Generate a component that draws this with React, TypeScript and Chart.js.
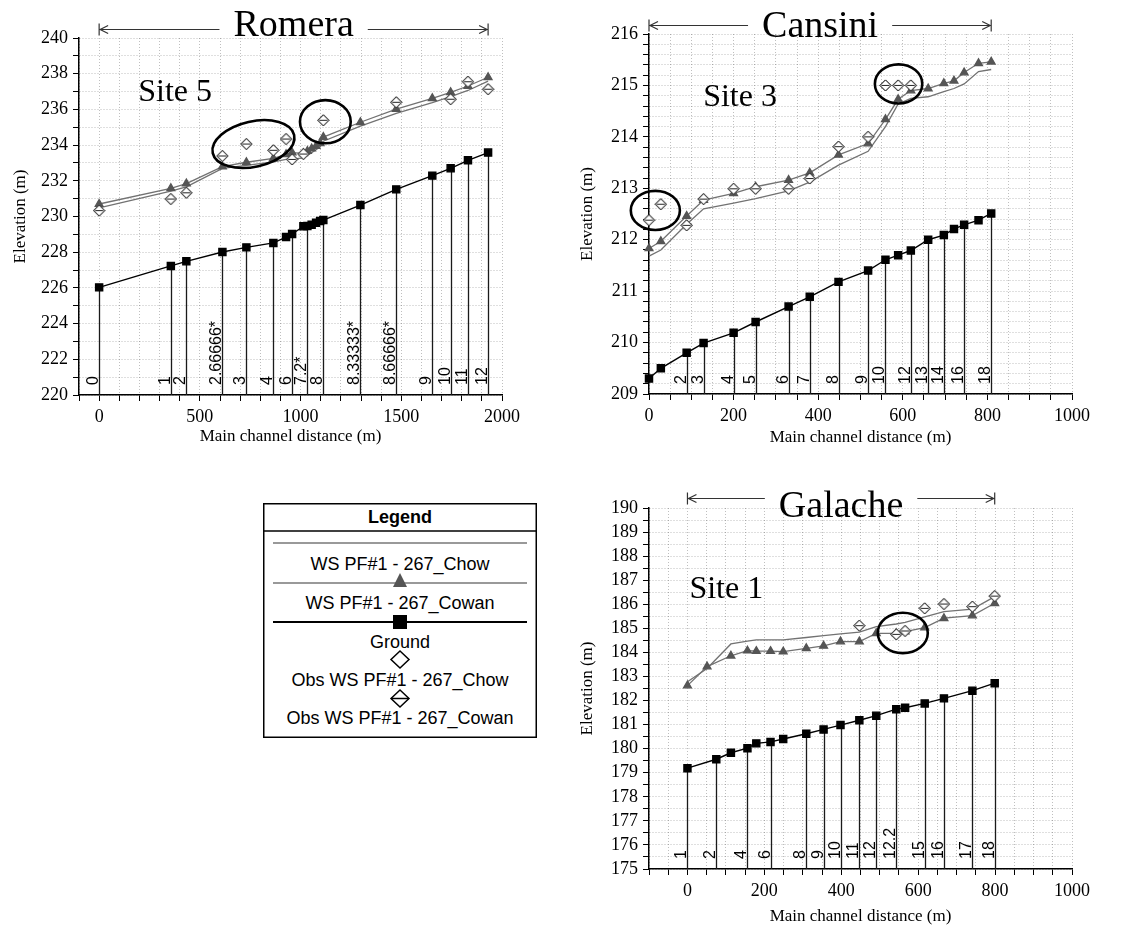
import React, { useEffect, useRef } from 'react';
import { Chart, registerables } from 'chart.js';
Chart.register(...registerables);

// ---------------- Romera (Site 5) ----------------
const romeraDist = [0, 356, 433, 612, 731, 865, 928, 958, 1014, 1034, 1055, 1077, 1097, 1113, 1297, 1475, 1654, 1745, 1831, 1931];
const romeraStations = ['0', '1', '2', '2.66666*', '3', '4', '', '6', '', '7.2*', '', '', '', '8', '8.33333*', '8.66666*', '9', '10', '11', '12'];
const romeraGround = [226.03, 227.23, 227.49, 228.01, 228.27, 228.52, 228.85, 229.02, 229.45, 229.47, 229.54, 229.65, 229.75, 229.8, 230.64, 231.52, 232.29, 232.7, 233.15, 233.58];
const romeraCowan = [230.7, 231.58, 231.84, 232.79, 233.04, 233.26, 233.48, 233.58, 233.54, 233.66, 233.8, 233.95, 234.1, 234.45, 235.28, 236.02, 236.62, 236.96, 237.31, 237.8];
const romeraChow = [230.48, 231.42, 231.66, 232.7, 232.86, 233.06, 233.2, 233.22, 233.28, 233.42, 233.58, 233.74, 233.9, 234.22, 235.06, 235.78, 236.38, 236.72, 237.06, 237.58];
const romeraObsDist = [0, 356, 433, 612, 731, 865, 928, 958, 1014, 1113, 1475, 1745, 1831, 1931];
const romeraObs = [230.33, 230.98, 231.33, 233.39, 234.06, 233.71, 234.34, 233.2, 233.5, 235.39, 236.4, 236.57, 237.55, 237.13];
const romeraXLabels = [0, 500, 1000, 1500, 2000];
const romeraYLabels = [220, 222, 224, 226, 228, 230, 232, 234, 236, 238, 240];

// ---------------- Cansini (Site 3) ----------------
const cansiniDist = [0, 28, 89, 129, 200, 252, 330, 380, 448, 518, 559, 589, 619, 660, 697, 721, 745, 779, 809];
const cansiniStations = ['', '', '2', '3', '4', '5', '6', '7', '8', '9', '10', '', '12', '13', '14', '', '16', '', '18'];
const cansiniGround = [209.3, 209.5, 209.8, 209.99, 210.19, 210.4, 210.7, 210.89, 211.18, 211.4, 211.61, 211.7, 211.79, 212.0, 212.09, 212.21, 212.29, 212.38, 212.51];
const cansiniCowan = [211.83, 211.97, 212.46, 212.77, 212.9, 213.03, 213.16, 213.3, 213.65, 213.87, 214.34, 214.73, 214.9, 214.94, 215.04, 215.09, 215.25, 215.43, 215.46];
const cansiniChow = [211.68, 211.8, 212.3, 212.6, 212.71, 212.8, 212.95, 213.12, 213.45, 213.72, 214.2, 214.64, 214.75, 214.78, 214.88, 214.94, 215.03, 215.27, 215.31];
const cansiniObsDist = [0, 28, 89, 129, 200, 252, 330, 380, 448, 518, 559, 589, 619];
const cansiniObs = [212.38, 212.69, 212.28, 212.79, 212.99, 212.99, 212.99, 213.19, 213.81, 214.0, 215.0, 215.0, 215.0];
const cansiniXLabels = [0, 200, 400, 600, 800, 1000];
const cansiniYLabels = [209, 210, 211, 212, 213, 214, 215, 216];

// ---------------- Galache (Site 1) ----------------
const galacheDist = [0, 75, 113, 156, 179, 216, 249, 309, 354, 398, 447, 491, 543, 566, 617, 667, 741, 799];
const galacheStations = ['1', '2', '', '4', '', '6', '', '8', '9', '10', '11', '12', '12.2', '', '15', '16', '17', '18'];
const galacheGround = [179.19, 179.56, 179.83, 180.02, 180.22, 180.28, 180.4, 180.62, 180.8, 180.98, 181.18, 181.37, 181.64, 181.7, 181.88, 182.09, 182.41, 182.72];
const galacheWsDist = [0, 51, 113, 156, 179, 216, 249, 309, 354, 398, 447, 491, 543, 566, 617, 667, 741, 799];
const galacheCowan = [182.62, 183.41, 183.86, 184.07, 184.05, 184.05, 184.03, 184.17, 184.27, 184.45, 184.45, 184.79, 184.79, 184.86, 185.03, 185.42, 185.53, 186.04];
const galacheChow = [182.78, 183.33, 184.35, 184.47, 184.52, 184.52, 184.52, 184.62, 184.7, 184.77, 184.84, 185.07, 185.18, 185.25, 185.48, 185.69, 185.8, 186.32];
const galacheObsDist = [447, 543, 566, 617, 667, 741, 799];
const galacheObs = [185.11, 184.75, 184.89, 185.83, 186.01, 185.9, 186.34];
const galacheXLabels = [0, 200, 400, 600, 800, 1000];
const galacheYLabels = [175, 176, 177, 178, 179, 180, 181, 182, 183, 184, 185, 186, 187, 188, 189, 190];

function range(min: number, max: number, step: number) {
  const n = Math.round((max - min) / step);
  return Array.from({ length: n + 1 }, (_, i) => Math.round((min + i * step) * 1000) / 1000);
}

const SERIF = '"Liberation Serif", "Times New Roman", serif';
const SANS = '"Liberation Sans", Arial, sans-serif';

let obsImg: HTMLCanvasElement | null = null;
function cowanObsPoint() {
  if (obsImg) return obsImg;
  const c = document.createElement('canvas');
  c.width = 13; c.height = 13;
  const g = c.getContext('2d')!;
  g.beginPath();
  g.moveTo(6.5, 1); g.lineTo(12, 6.5); g.lineTo(6.5, 12); g.lineTo(1, 6.5); g.closePath();
  g.fillStyle = '#fff'; g.fill();
  g.strokeStyle = '#222'; g.lineWidth = 1; g.stroke();
  g.beginPath(); g.moveTo(2.5, 6.5); g.lineTo(10.5, 6.5); g.stroke();
  obsImg = c;
  return c;
}

type Ell = { x: number; y: number; rx: number; ry: number; rot: number };
type Cfg = {
  title: string; site: string; siteX: number; siteY: number;
  arrowTo: number; arrowDy: number; titleDy: number;
  dist: number[]; stations: string[]; ground: number[];
  wsDist: number[]; cowan: number[]; chow: number[];
  obsDist: number[]; obs: number[];
  xMin: number; xMax: number; xStep: number; xLabels: number[];
  yMin: number; yMax: number; yStep: number; yLabels: number[];
  ellipses: Ell[];
  padTop: number; padRight: number; xAxisH: number; xTitlePad: number; yTitlePad: number;
};

function makeAnno(a: Cfg) {
  return {
    id: 'anno',
    beforeDatasetsDraw(chart: any) {
      const { ctx, chartArea } = chart;
      const xs = chart.scales.x, ys = chart.scales.y;
      ctx.save();
      a.dist.forEach((sx, i) => {
        const lab = a.stations[i];
        if (!lab) return;
        const px = Math.round(xs.getPixelForValue(sx)) + 0.5;
        const py = ys.getPixelForValue(a.ground[i]);
        ctx.strokeStyle = '#1a1a1a'; ctx.lineWidth = 1.3;
        ctx.beginPath(); ctx.moveTo(px, py); ctx.lineTo(px, chartArea.bottom); ctx.stroke();
        ctx.save();
        ctx.translate(px - 2, chartArea.bottom - 10);
        ctx.rotate(-Math.PI / 2);
        ctx.font = '16px ' + SANS;
        ctx.fillStyle = '#000'; ctx.textAlign = 'left'; ctx.textBaseline = 'alphabetic';
        ctx.fillText(lab, 0, 0);
        ctx.restore();
      });
      ctx.restore();
    },
    afterDraw(chart: any) {
      const { ctx, chartArea } = chart;
      const xs = chart.scales.x, ys = chart.scales.y;
      ctx.save();
      // title with span arrow
      const x0 = xs.getPixelForValue(0), x1 = xs.getPixelForValue(a.arrowTo);
      const ay = Math.round(chartArea.top + a.arrowDy) + 0.5;
      ctx.font = '38px ' + SERIF;
      const tw = ctx.measureText(a.title).width;
      const cx = (x0 + x1) / 2;
      const gl = cx - tw / 2 - 14, gr = cx + tw / 2 + 14;
      ctx.strokeStyle = '#333'; ctx.lineWidth = 1.2;
      ctx.beginPath();
      ctx.moveTo(x0, ay); ctx.lineTo(gl, ay);
      ctx.moveTo(gr, ay); ctx.lineTo(x1, ay);
      ctx.moveTo(x0, ay - 6); ctx.lineTo(x0, ay + 6);
      ctx.moveTo(x1, ay - 6); ctx.lineTo(x1, ay + 6);
      ctx.moveTo(x0 + 9, ay - 4); ctx.lineTo(x0 + 1, ay); ctx.lineTo(x0 + 9, ay + 4);
      ctx.moveTo(x1 - 9, ay - 4); ctx.lineTo(x1 - 1, ay); ctx.lineTo(x1 - 9, ay + 4);
      ctx.stroke();
      ctx.fillStyle = '#000'; ctx.textAlign = 'center'; ctx.textBaseline = 'alphabetic';
      ctx.fillText(a.title, cx, chartArea.top + a.titleDy);
      // site label
      ctx.font = '32px ' + SERIF; ctx.textAlign = 'left';
      ctx.fillText(a.site, xs.getPixelForValue(a.siteX), ys.getPixelForValue(a.siteY));
      // ellipses
      ctx.strokeStyle = '#000'; ctx.lineWidth = 2.6;
      a.ellipses.forEach((e) => {
        const ex = xs.getPixelForValue(e.x), ey = ys.getPixelForValue(e.y);
        const rx = Math.abs(xs.getPixelForValue(e.x + e.rx) - ex);
        const ry = Math.abs(ys.getPixelForValue(e.y + e.ry) - ey);
        ctx.beginPath(); ctx.ellipse(ex, ey, rx, ry, e.rot, 0, Math.PI * 2); ctx.stroke();
      });
      ctx.restore();
    },
  };
}

function buildConfig(p: Cfg): any {
  const pts = (xs: number[], ys: number[]) => xs.map((x, i) => ({ x, y: ys[i] }));
  const has = (arr: number[], v: number) => arr.some((l) => Math.abs(l - v) < 1e-6);
  const xTicks = range(p.xMin, p.xMax, p.xStep);
  const yTicks = range(p.yMin, p.yMax, p.yStep);
  const gridCommon = { color: 'rgba(0,0,0,0.25)', lineWidth: 1, drawTicks: true, tickLength: 6, tickColor: '#000', tickWidth: 1 };
  const borderCommon = { display: true, color: '#000', width: 1.5, dash: [1, 2] };
  return {
    type: 'line',
    data: {
      datasets: [
        { label: 'Obs WS PF#1 - 267_Cowan', data: pts(p.obsDist, p.obs), showLine: false, pointStyle: cowanObsPoint(), pointRadius: 6, order: 0, clip: false },
        { label: 'Obs WS PF#1 - 267_Chow', data: pts(p.obsDist, p.obs), showLine: false, pointStyle: 'rectRot', pointRadius: 5.5, pointBackgroundColor: '#fff', pointBorderColor: '#222', pointBorderWidth: 1, order: 1, clip: false },
        { label: 'WS PF#1 - 267_Cowan', data: pts(p.wsDist, p.cowan), borderColor: '#727272', borderWidth: 1.3, pointStyle: 'triangle', pointRadius: 4.5, pointBackgroundColor: '#555', pointBorderColor: '#555', order: 2, clip: false },
        { label: 'WS PF#1 - 267_Chow', data: pts(p.wsDist, p.chow), borderColor: '#727272', borderWidth: 1.3, pointRadius: 0, order: 3, clip: false },
        { label: 'Ground', data: pts(p.dist, p.ground), borderColor: '#000', borderWidth: 1.4, pointStyle: 'rect', pointRadius: 5, pointBackgroundColor: '#000', pointBorderColor: '#000', order: 4, clip: false },
      ],
    },
    options: {
      responsive: false,
      animation: false,
      devicePixelRatio: 1,
      events: [],
      layout: { padding: { top: p.padTop, right: p.padRight, left: 0, bottom: 0 } },
      plugins: { legend: { display: false }, tooltip: { enabled: false }, title: { display: false } },
      scales: {
        x: {
          type: 'linear', position: 'bottom', min: p.xMin, max: p.xMax,
          afterBuildTicks: (s: any) => { s.ticks = xTicks.map((v) => ({ value: v })); },
          afterFit: (s: any) => { s.height = p.xAxisH; },
          ticks: { autoSkip: false, maxRotation: 0, minRotation: 0, padding: 5, color: '#000', font: { family: SERIF, size: 18 }, callback: (v: number) => (has(p.xLabels, v) ? String(Math.round(v)) : '') },
          grid: gridCommon,
          border: borderCommon,
          title: { display: true, text: 'Main channel distance (m)', color: '#000', font: { family: SERIF, size: 17 }, padding: { top: 0, bottom: p.xTitlePad } },
        },
        y: {
          type: 'linear', position: 'left', min: p.yMin, max: p.yMax,
          afterBuildTicks: (s: any) => { s.ticks = yTicks.map((v) => ({ value: v })); },
          afterFit: (s: any) => { s.width = 79; },
          ticks: { autoSkip: false, padding: 5, color: '#000', font: { family: SERIF, size: 18 }, callback: (v: number) => (has(p.yLabels, v) ? String(Math.round(v)) : '') },
          grid: gridCommon,
          border: borderCommon,
          title: { display: true, text: 'Elevation (m)', color: '#000', font: { family: SERIF, size: 17 }, padding: { top: p.yTitlePad, bottom: 0 } },
        },
      },
    },
    plugins: [makeAnno(p)],
  };
}

const romeraCfg: Cfg = {
  title: 'Romera', site: 'Site 5', siteX: 194, siteY: 236.47, arrowTo: 1931, arrowDy: -9, titleDy: -2,
  dist: romeraDist, stations: romeraStations, ground: romeraGround,
  wsDist: romeraDist, cowan: romeraCowan, chow: romeraChow,
  obsDist: romeraObsDist, obs: romeraObs,
  xMin: -100, xMax: 2000, xStep: 100, xLabels: romeraXLabels,
  yMin: 220, yMax: 240, yStep: 1, yLabels: romeraYLabels,
  ellipses: [
    { x: 766, y: 234.06, rx: 207, ry: 1.27, rot: -0.22 },
    { x: 1123, y: 235.31, rx: 126, ry: 1.21, rot: 0 },
  ],
  padTop: 38, padRight: 58, xAxisH: 55, xTitlePad: 3, yTitlePad: 10,
};

const cansiniCfg: Cfg = {
  title: 'Cansini', site: 'Site 3', siteX: 128, siteY: 214.6, arrowTo: 809, arrowDy: -9, titleDy: 3,
  dist: cansiniDist, stations: cansiniStations, ground: cansiniGround,
  wsDist: cansiniDist, cowan: cansiniCowan, chow: cansiniChow,
  obsDist: cansiniObsDist, obs: cansiniObs,
  xMin: 0, xMax: 1000, xStep: 50, xLabels: cansiniXLabels,
  yMin: 209, yMax: 216, yStep: 0.2, yLabels: cansiniYLabels,
  ellipses: [
    { x: 15, y: 212.57, rx: 58, ry: 0.38, rot: 0 },
    { x: 590, y: 215.03, rx: 56, ry: 0.38, rot: 0 },
  ],
  padTop: 34, padRight: 64, xAxisH: 56, xTitlePad: 2, yTitlePad: 7,
};

const galacheCfg: Cfg = {
  title: 'Galache', site: 'Site 1', siteX: 5, siteY: 186.27, arrowTo: 799, arrowDy: -10, titleDy: 9,
  dist: galacheDist, stations: galacheStations, ground: galacheGround,
  wsDist: galacheWsDist, cowan: galacheCowan, chow: galacheChow,
  obsDist: galacheObsDist, obs: galacheObs,
  xMin: -100, xMax: 1000, xStep: 50, xLabels: galacheXLabels,
  yMin: 175, yMax: 190, yStep: 0.5, yLabels: galacheYLabels,
  ellipses: [{ x: 560, y: 184.81, rx: 65, ry: 0.84, rot: 0 }],
  padTop: 48, padRight: 64, xAxisH: 59, xTitlePad: 1, yTitlePad: 7,
};

function ProfileChart({ cfg, left, top, width, height }: { cfg: Cfg; left: number; top: number; width: number; height: number }) {
  const ref = useRef<HTMLCanvasElement | null>(null);
  useEffect(() => {
    const chart = new Chart(ref.current as HTMLCanvasElement, buildConfig(cfg));
    return () => chart.destroy();
  }, [cfg]);
  return <canvas ref={ref} width={width} height={height} style={{ position: 'absolute', left, top, width, height }} />;
}

const legendEntries = ['WS PF#1 - 267_Chow', 'WS PF#1 - 267_Cowan', 'Ground', 'Obs WS PF#1 - 267_Chow', 'Obs WS PF#1 - 267_Cowan'];

function Legend() {
  const W = 274, H = 235, cx = 137;
  const textY = [67, 106, 145, 183, 221];
  return (
    <svg width={W} height={H} style={{ position: 'absolute', left: 263, top: 503 }}>
      <rect x={0.75} y={0.75} width={W - 1.5} height={H - 1.5} fill="#fff" stroke="#000" strokeWidth={1.5} />
      <line x1={0} y1={28} x2={W} y2={28} stroke="#000" strokeWidth={1.5} />
      <text x={cx} y={20} textAnchor="middle" fontFamily={SANS} fontWeight="bold" fontSize={18}>Legend</text>
      <line x1={10} y1={40} x2={264} y2={40} stroke="#777" strokeWidth={1.5} />
      <line x1={10} y1={80} x2={264} y2={80} stroke="#777" strokeWidth={1.5} />
      <polygon points={`${cx},70 ${cx - 7},84 ${cx + 7},84`} fill="#555" />
      <line x1={10} y1={119} x2={264} y2={119} stroke="#000" strokeWidth={2} />
      <rect x={cx - 7} y={112} width={14} height={14} fill="#000" />
      <polygon points={`${cx},148 ${cx + 9},156.5 ${cx},165 ${cx - 9},156.5`} fill="#fff" stroke="#000" strokeWidth={1.5} />
      <polygon points={`${cx},187 ${cx + 9},195.5 ${cx},204 ${cx - 9},195.5`} fill="#fff" stroke="#000" strokeWidth={1.5} />
      <line x1={cx - 9} y1={195.5} x2={cx + 9} y2={195.5} stroke="#000" strokeWidth={1.5} />
      {legendEntries.map((t, i) => (
        <text key={t} x={cx} y={textY[i]} textAnchor="middle" fontFamily={SANS} fontSize={18}>{t}</text>
      ))}
    </svg>
  );
}

export default function App() {
  return (
    <div style={{ position: 'absolute', left: 0, top: 0, width: 1136, height: 928, background: '#fff', overflow: 'hidden' }}>
      <ProfileChart cfg={romeraCfg} left={0} top={0} width={560} height={450} />
      <ProfileChart cfg={cansiniCfg} left={570} top={0} width={566} height={450} />
      <ProfileChart cfg={galacheCfg} left={570} top={460} width={566} height={468} />
      <Legend />
    </div>
  );
}
